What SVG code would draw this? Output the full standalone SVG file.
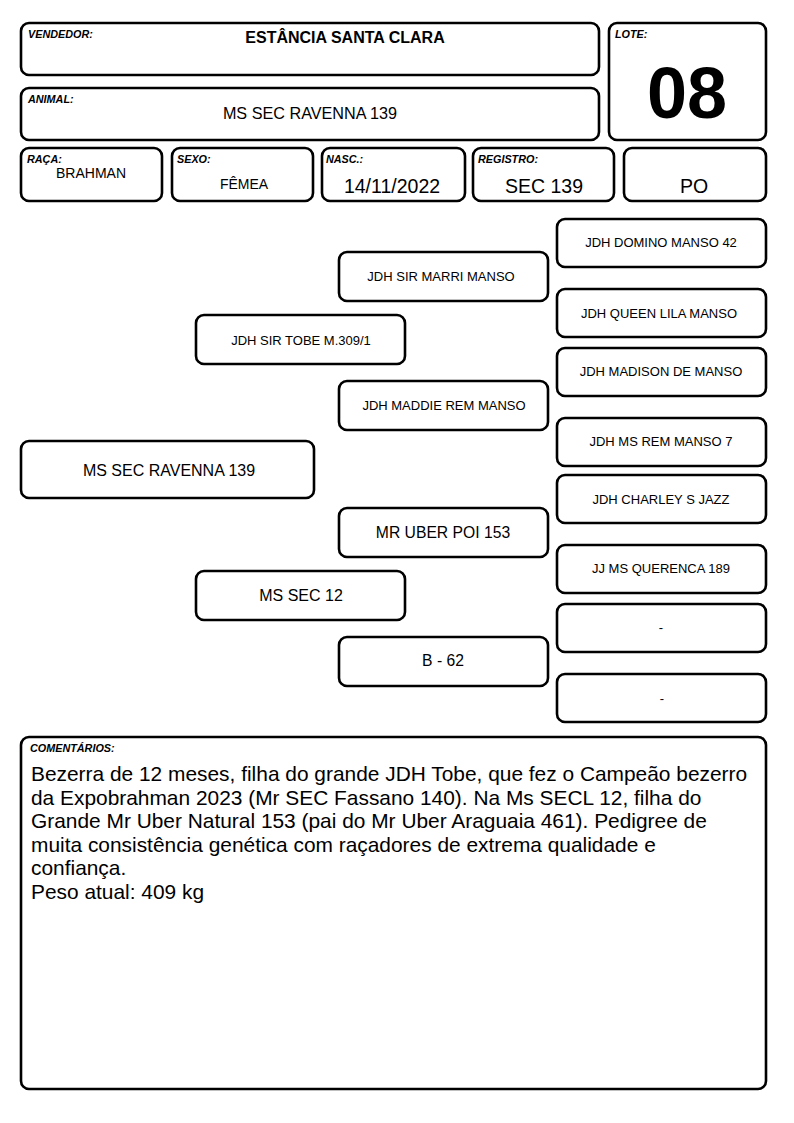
<svg xmlns="http://www.w3.org/2000/svg" width="794" height="1123" viewBox="0 0 794 1123">
<style>
rect.b{fill:#fff;stroke:#000;stroke-width:2.6}
text{font-family:"Liberation Sans",Arial,sans-serif;fill:#000}
.lbl{font-size:10.8px;font-weight:bold;font-style:italic}
.c{text-anchor:middle}
.r{font-size:13px}
.m{font-size:13px}
.p{font-size:15.7px}
.v{font-size:19.5px}
</style>
<rect width="794" height="1123" fill="#fff"/>
<g id="vendedor"><rect class="b" x="21" y="23" width="578" height="52" rx="8"/><text class="lbl" x="28" y="38">VENDEDOR:</text><text class="c" x="345" y="43" font-size="16" font-weight="bold">ESTÂNCIA SANTA CLARA</text></g>
<g id="animal"><rect class="b" x="21" y="88" width="578" height="52" rx="8"/><text class="lbl" x="28" y="103">ANIMAL:</text><text class="c" x="310" y="119" font-size="16.2">MS SEC RAVENNA 139</text></g>
<g id="lote"><rect class="b" x="609" y="23" width="157" height="117" rx="8"/><text class="lbl" x="615" y="38">LOTE:</text><text class="c" x="687" y="118" font-size="72" font-weight="bold">08</text></g>
<g id="raca"><rect class="b" x="21" y="148" width="141" height="53" rx="8"/><text class="lbl" x="27" y="163">RAÇA:</text><text class="c" x="91" y="178" font-size="14">BRAHMAN</text></g>
<g id="sexo"><rect class="b" x="172" y="148" width="141" height="53" rx="8"/><text class="lbl" x="177" y="163">SEXO:</text><text class="c" x="244" y="189" font-size="14">FÊMEA</text></g>
<g id="nasc"><rect class="b" x="322" y="148" width="143" height="53" rx="8"/><text class="lbl" x="326" y="163">NASC.:</text><text class="c v" x="392" y="193">14/11/2022</text></g>
<g id="registro"><rect class="b" x="473" y="148" width="141" height="53" rx="8"/><text class="lbl" x="478" y="163">REGISTRO:</text><text class="c v" x="544" y="193">SEC 139</text></g>
<g id="po"><rect class="b" x="624" y="148" width="142" height="53" rx="8"/><text class="c v" x="694" y="193">PO</text></g>
<g id="connectors"></g>
<g id="n-main"><rect class="b" x="21" y="441" width="293" height="57" rx="8"/><text class="c" x="169" y="476" font-size="16">MS SEC RAVENNA 139</text></g>
<g id="n-tobe"><rect class="b" x="196" y="315" width="209" height="49" rx="8"/><text class="c m" x="301" y="344.5">JDH SIR TOBE M.309/1</text></g>
<g id="n-sec12"><rect class="b" x="196" y="571" width="209" height="49" rx="8"/><text class="c" x="301" y="600.5" font-size="16">MS SEC 12</text></g>
<g id="n-marri"><rect class="b" x="339" y="252" width="209" height="49" rx="8"/><text class="c m" x="441" y="281">JDH SIR MARRI MANSO</text></g>
<g id="n-maddie"><rect class="b" x="339" y="381" width="209" height="49" rx="8"/><text class="c m" x="444" y="410">JDH MADDIE REM MANSO</text></g>
<g id="n-uber"><rect class="b" x="339" y="508" width="209" height="49" rx="8"/><text class="c p" x="443" y="538">MR UBER POI 153</text></g>
<g id="n-b62"><rect class="b" x="339" y="637" width="209" height="49" rx="8"/><text class="c p" x="443" y="666">B - 62</text></g>
<g id="n-domino"><rect class="b" x="557" y="219" width="209" height="48" rx="8"/><text class="c r" x="661" y="246.5">JDH DOMINO MANSO 42</text></g>
<g id="n-queen"><rect class="b" x="557" y="289" width="209" height="48" rx="8"/><text class="c r" x="659" y="318">JDH QUEEN LILA MANSO</text></g>
<g id="n-madison"><rect class="b" x="557" y="348" width="209" height="48" rx="8"/><text class="c r" x="661" y="375.5">JDH MADISON DE MANSO</text></g>
<g id="n-msrem"><rect class="b" x="557" y="418" width="209" height="48" rx="8"/><text class="c r" x="661" y="445.5">JDH MS REM MANSO 7</text></g>
<g id="n-charley"><rect class="b" x="557" y="475" width="209" height="48" rx="8"/><text class="c r" x="661" y="503.5">JDH CHARLEY S JAZZ</text></g>
<g id="n-querenca"><rect class="b" x="557" y="545" width="209" height="48" rx="8"/><text class="c r" x="661" y="573">JJ MS QUERENCA 189</text></g>
<g id="n-blank1"><rect class="b" x="557" y="604" width="209" height="48" rx="8"/><text class="c r" x="661" y="632">-</text></g>
<g id="n-blank2"><rect class="b" x="557" y="674" width="209" height="48" rx="8"/><text class="c r" x="662" y="703">-</text></g>
<g id="comentarios"><rect class="b" x="21" y="737" width="745" height="352" rx="8"/><text class="lbl" x="30" y="752">COMENTÁRIOS:</text>
<text font-size="20.9"><tspan x="31" y="781">Bezerra de 12 meses, filha do grande JDH Tobe, que fez o Campeão bezerro</tspan><tspan x="31" y="804.5">da Expobrahman 2023 (Mr SEC Fassano 140). Na Ms SECL 12, filha do</tspan><tspan x="31" y="828">Grande Mr Uber Natural 153 (pai do Mr Uber Araguaia 461). Pedigree de</tspan><tspan x="31" y="851.5">muita consistência genética com raçadores de extrema qualidade e</tspan><tspan x="31" y="875">confiança.</tspan><tspan x="31" y="898.5">Peso atual: 409 kg</tspan></text></g>
</svg>
